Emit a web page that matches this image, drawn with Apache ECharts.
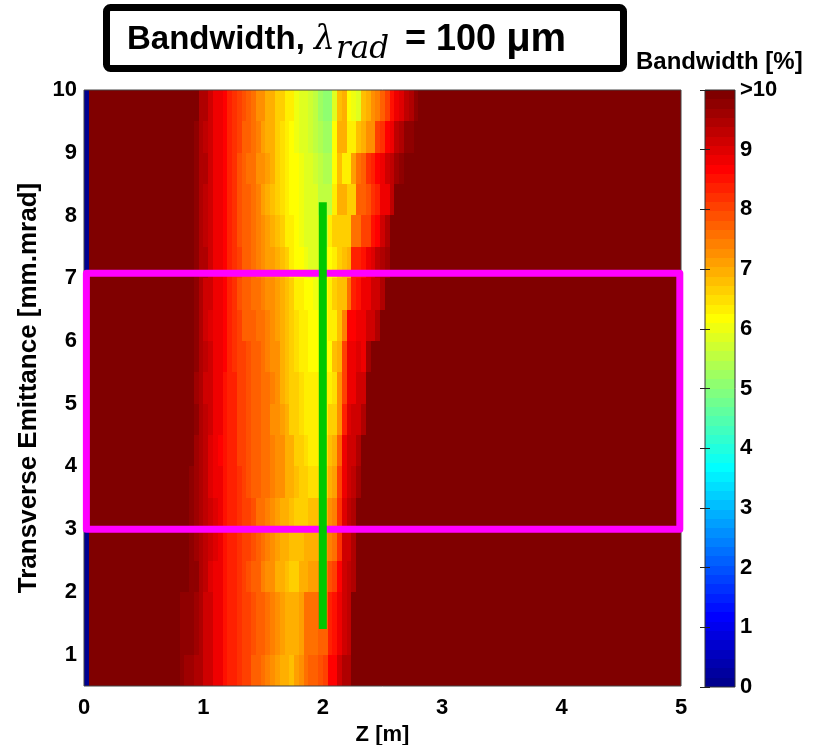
<!DOCTYPE html>
<html>
<head>
<meta charset="utf-8">
<script src="https://cdn.jsdelivr.net/npm/echarts@6/dist/echarts.min.js"></script>
<style>
  html, body { margin: 0; padding: 0; background: #fff; }
  #chart { width: 819px; height: 745px; }
</style>
</head>
<body>
<div id="chart"></div>
<script>
// Bandwidth map: Z position (m) vs transverse emittance (mm.mrad), colour = bandwidth (%)

// Z grid: 125 columns of 0.04 m from 0 to 5 m
const zStep = 0.04;
const zCount = 125;
// Emittance rows: lower edges of 0.5 mm.mrad rows, listed top to bottom
const rowHeight = 0.5;
const emittanceRows = [9.5, 9, 8.5, 8, 7.5, 7, 6.5, 6, 5.5, 5, 4.5, 4, 3.5, 3, 2.5, 2, 1.5, 1, 0.5];

// Bandwidth (%) in each row, starting at column bandStart (Z = 0.76 m);
// columns outside these lists are saturated (>10 %), first column (Z = 0) reads 0 %
const bandStart = 19;
const saturatedValue = 11;
const firstColumnValue = 0;
const bw_9_5 = [11,11,11,11,11, 9.5,9.4,9.2,8.9,8.8, 8.7,8.4,8.2,8.0,7.9, 7.7,7.5,7.3,7.2,7.0, 6.9,6.7,6.6,6.4,6.3, 6.0,5.9,5.8,5.7,5.6, 5.2,5.1,5.1,5.9,6.8, 7.0,6.1,6.0,5.9,6.8, 7.0,7.3,7.4,7.8,8.0, 8.5,8.9,9.0,9.3,9.4, 9.7];
const bw_9_0 = [11,11,11,11,9.7, 9.4,9.3,9.1,8.9,8.8, 8.6,8.3,8.2,8.0,7.8, 7.7,7.5,7.4,7.1,7.0, 6.9,6.7,6.5,6.3,6.2, 6.0,5.9,5.8,5.7,5.6, 5.4,5.3,5.3,6.1,6.9, 6.9,6.4,6.3,6.8,6.9, 7.2,7.3,8.0,8.2,8.6, 8.8,9.3,9.4,9.7,9.8];
const bw_8_5 = [11,11,11,11,9.8, 9.5,9.4,9.1,8.9,8.8, 8.6,8.3,8.2,7.9,7.8, 7.6,7.5,7.3,7.2,7.1, 6.9,6.7,6.5,6.4,6.2, 6.1,6.0,5.9,5.8,5.7, 5.5,5.4,5.4,6.1,6.8, 6.3,6.3,7.1,7.6,7.8, 8.2,8.3,8.7,8.8,9.2, 9.3,9.6,9.7];
const bw_8_0 = [11,11,11,11,9.7, 9.4,9.3,9.2,8.9,8.8, 8.6,8.3,8.2,7.9,7.8, 7.7,7.5,7.4,7.1,7.0, 6.8,6.7,6.5,6.3,6.2, 6.1,6.0,5.9,5.8,5.8, 5.6,5.5,5.6,6.4,6.9, 6.9,6.6,6.6,7.8,7.8, 7.9,8.2,8.3,8.8,8.8, 9.3];
const bw_7_5 = [11,11,11,11,9.7, 9.4,9.3,9.1,8.9,8.8, 8.6,8.3,8.2,7.9,7.8, 7.7,7.5,7.4,7.2,7.1, 6.9,6.8,6.6,6.4,6.3, 6.2,6.0,5.9,5.8,5.8, 5.8,5.7,6.3,6.6,6.6, 6.6,6.7,7.5,7.6,8.0, 8.1,8.5,8.6,9.1,9.4];
const bw_7_0 = [11,11,11,11,9.7, 9.5,9.4,9.2,8.9,8.8, 8.6,8.4,8.2,8.0,7.8, 7.7,7.5,7.4,7.2,7.1, 7.1,6.9,6.8,6.6,6.4, 6.2,6.1,6.0,5.9,5.9, 5.9,6.0,6.1,6.4,6.6, 6.8,7.0,8.3,8.4,8.5, 8.9,9.0,9.3,9.4,9.6];
const bw_6_5 = [11,11,11,11,9.7, 9.4,9.2,9.1,8.9,8.8, 8.6,8.3,8.2,7.9,7.8, 7.7,7.6,7.5,7.4,7.3, 7.2,7.1,6.9,6.8,6.6, 6.4,6.3,6.2,6.1,6.0, 6.0,6.1,6.3,6.6,6.8, 6.8,7.5,8.4,8.5,8.8, 8.8,9.1,9.2,9.5];
const bw_6_0 = [11,11,11,11,9.7, 9.4,9.2,9.0,8.9,8.8, 8.6,8.3,8.2,8.0,7.8, 7.8,7.7,7.6,7.5,7.4, 7.2,7.1,6.9,6.8,6.6, 6.5,6.4,6.3,6.2,6.1, 6.1,6.2,6.3,6.4,6.8, 7.4,8.7,8.7,8.8,8.9, 9.1,9.2,9.5];
const bw_5_5 = [11,11,11,11,9.7, 9.4,9.3,9.1,8.9,8.8, 8.6,8.3,8.2,8.1,8.0, 7.9,7.8,7.7,7.5,7.4, 7.3,7.2,7.0,6.8,6.6, 6.5,6.4,6.3,6.2,6.2, 6.2,6.2,6.1,6.8,6.9, 8.0,8.8,8.8,9.0,8.9, 9.6];
const bw_5_0 = [11,11,11,11,9.6, 9.4,9.2,9.1,8.9,8.8, 8.5,8.4,8.3,8.1,8.0, 7.9,7.8,7.7,7.6,7.5, 7.4,7.2,7.0,6.8,6.7, 6.6,6.5,6.4,6.3,6.3, 6.3,6.3,6.4,6.5,7.2, 8.0,8.8,8.9,9.1,9.1];
const bw_4_5 = [11,11,11,11,9.7, 9.4,9.3,9.1,8.9,8.8, 8.5,8.4,8.3,8.1,8.0, 7.9,7.8,7.7,7.6,7.5, 7.3,7.2,7.1,6.9,6.7, 6.6,6.5,6.4,6.3,6.3, 6.3,6.4,6.6,6.6,7.3, 8.4,9.0,9.1,9.2,9.5];
const bw_4_0 = [11,11,11,11,9.6, 9.4,9.3,9.0,8.8,8.7, 8.5,8.4,8.3,8.1,8.0, 7.9,7.8,7.7,7.6,7.5, 7.4,7.3,7.2,7.0,6.9, 6.7,6.6,6.5,6.4,6.4, 6.4,6.5,6.8,6.9,7.7, 8.8,9.2,9.2,9.4];
const bw_3_5 = [11,11,11,9.7,9.6, 9.4,9.3,9.0,8.9,8.8, 8.5,8.4,8.3,8.2,8.0, 7.9,7.8,7.7,7.6,7.5, 7.4,7.3,7.2,7.0,6.9, 6.8,6.7,6.6,6.5,6.5, 6.5,6.7,7.0,7.1,8.0, 8.8,9.2,9.3,9.6];
const bw_3_0 = [11,11,11,9.7,9.6, 9.4,9.3,9.1,9.0,8.8, 8.5,8.4,8.3,8.2,8.1, 8.0,7.9,7.6,7.5,7.4, 7.2,7.1,7.0,6.9,6.8, 6.6,6.6,6.7,6.8,6.8, 6.8,7.0,7.3,7.4,8.2, 9.0,9.3,9.4];
const bw_2_5 = [11,11,11,9.7,9.6, 9.4,9.3,9.1,9.0,8.8, 8.5,8.4,8.3,8.2,8.1, 8.0,7.9,7.8,7.5,7.4, 7.3,7.1,7.0,6.9,6.8, 6.8,6.8,6.9,6.9,6.9, 7.0,7.2,7.4,7.5,8.2, 9.1,9.2,9.4];
const bw_2_0 = [11,11,11,9.8,9.7, 9.4,9.3,9.0,8.9,8.8, 8.5,8.4,8.3,8.2,8.1, 7.9,7.8,7.7,7.4,7.3, 7.2,7.0,6.9,6.8,6.7, 6.7,7.0,7.0,7.1,7.1, 7.2,7.5,7.9,8.0,8.6, 9.2,9.3,9.5];
const bw_1_5 = [11,9.8,9.7,9.7,9.6, 9.5,9.2,9.1,8.9,8.8, 8.5,8.4,8.3,8.2,8.1, 8.0,7.9,7.8,7.7,7.5, 7.4,7.2,7.1,6.9,6.9, 7.0,7.1,7.5,7.6,7.6, 7.7,7.8,8.4,8.5,8.8, 9.2,9.3];
const bw_1_0 = [11,9.8,9.7,9.7,9.6, 9.5,9.2,9.1,8.9,8.8, 8.5,8.4,8.3,8.2,8.1, 8.0,7.9,7.8,7.7,7.5, 7.4,7.2,7.1,6.9,6.9, 7.0,7.1,7.5,7.6,7.6, 7.7,7.8,8.4,8.5,8.8, 9.2,9.3];
const bw_0_5 = [11,9.7,9.6,9.6,9.5, 9.5,9.2,9.1,8.9,8.8, 8.5,8.4,8.3,8.2,8.1, 8.0,7.8,7.7,7.6,7.4, 7.3,7.1,7.0,7.0,6.8, 7.1,7.2,7.6,7.7,7.8, 7.9,8.0,8.6,8.7,9.1, 9.4,9.4];
const bandwidthRows = [bw_9_5, bw_9_0, bw_8_5, bw_8_0, bw_7_5, bw_7_0, bw_6_5, bw_6_0, bw_5_5, bw_5_0,
                       bw_4_5, bw_4_0, bw_3_5, bw_3_0, bw_2_5, bw_2_0, bw_1_5, bw_1_0, bw_0_5];

// Tick labels
const zTicks = [0, 1, 2, 3, 4, 5];
const emittanceTicks = [1, 2, 3, 4, 5, 6, 7, 8, 9, 10];
const colorbarTicks = [0, 1, 2, 3, 4, 5, 6, 7, 8, 9, 10];
const colorbarTopLabel = '>10';

// Overlays: emittance window and working point at Z = 2 m
const windowZ = [0.02, 4.99];
const windowEmittance = [3, 7.08];
const markerZ = 2;
const markerEmittance = [1.41, 8.21];

// Colour scale: 0 – 10 %, 64 jet levels
const cMin = 0, cMax = 10, nLevels = 64;

function buildJet(m) {
  const n = Math.ceil(m / 4);
  const u = [];
  for (let i = 1; i <= n; i++) u.push(i / n);
  for (let i = 1; i < n; i++) u.push(1);
  for (let i = n; i >= 1; i--) u.push(i / n);
  const g0 = Math.ceil(n / 2) - (m % 4 === 1 ? 1 : 0);
  const rgb = [];
  for (let k = 0; k < m; k++) rgb.push([0, 0, 0]);
  for (let j = 0; j < u.length; j++) {
    const g = g0 + j + 1, r = g + n, b = g - n;
    if (g >= 1 && g <= m) rgb[g - 1][1] = u[j];
    if (r >= 1 && r <= m) rgb[r - 1][0] = u[j];
    if (b >= 1 && b <= m) rgb[b - 1][2] = u[j];
  }
  return rgb.map(c => 'rgb(' + c.map(v => Math.round(v * 255)).join(',') + ')');
}
const jet = buildJet(nLevels);
function colorOf(v) {
  let idx = Math.floor((v - cMin) / (cMax - cMin) * nLevels);
  if (idx < 0) idx = 0;
  if (idx > nLevels - 1) idx = nLevels - 1;
  return jet[idx];
}

// Cells: [z0, z1, e0, e1, bandwidth]
const cells = [];
emittanceRows.forEach((e0, r) => {
  const row = bandwidthRows[r];
  for (let c = 0; c < zCount; c++) {
    let v;
    if (c === 0) v = firstColumnValue;
    else if (c >= bandStart && c - bandStart < row.length) v = row[c - bandStart];
    else v = saturatedValue;
    cells.push([c * zStep, (c + 1) * zStep, e0, e0 + rowHeight, v]);
  }
});

// Colour bar bands
const barBands = [];
for (let i = 0; i < nLevels; i++) {
  barBands.push([i * (cMax - cMin) / nLevels, (i + 1) * (cMax - cMin) / nLevels, i]);
}

const FONT = 'Liberation Sans';
const labelStyle = { fontFamily: FONT, fontWeight: 'bold', fontSize: 22, color: '#000' };

// Pixel-snapped rectangle between two data corners
function snappedRect(p1, p2) {
  const x0 = Math.round(p1[0]), x1 = Math.round(p2[0]);
  const y0 = Math.round(p1[1]), y1 = Math.round(p2[1]);
  return { x: x0, y: y0, width: x1 - x0, height: y1 - y0 };
}

const chart = echarts.init(document.getElementById('chart'), null, { renderer: 'canvas' });

const option = {
  animation: false,
  backgroundColor: '#fff',
  grid: [
    { left: 84, top: 90, width: 597, height: 596, outerBoundsMode: 'none', containLabel: false,
      show: true, borderColor: '#444', borderWidth: 1, backgroundColor: 'transparent', z: 3 },
    { left: 705, top: 90, width: 30, height: 597, outerBoundsMode: 'none', containLabel: false,
      show: true, borderColor: '#333', borderWidth: 1, backgroundColor: 'transparent', z: 3 }
  ],
  xAxis: [
    {
      gridIndex: 0, type: 'value', min: 0, max: 5, interval: 1,
      name: 'Z [m]', nameLocation: 'middle', nameGap: 34,
      nameTextStyle: { fontFamily: FONT, fontWeight: 'bold', fontSize: 22, color: '#000' },
      axisLine: { show: false }, splitLine: { show: false },
      axisTick: { show: false },
      axisLabel: Object.assign({ margin: 11, customValues: zTicks }, labelStyle)
    },
    { gridIndex: 1, type: 'value', min: 0, max: 1, show: false }
  ],
  yAxis: [
    {
      gridIndex: 0, type: 'value', min: 0.5, max: 10,
      name: 'Transverse Emittance [mm.mrad]', nameLocation: 'middle', nameGap: 35, nameRotate: 90,
      nameTextStyle: { fontFamily: FONT, fontWeight: 'bold', fontSize: 26, color: '#000' },
      axisLine: { show: false }, splitLine: { show: false },
      axisTick: { show: false },
      axisLabel: Object.assign({ margin: 7, customValues: emittanceTicks }, labelStyle)
    },
    {
      gridIndex: 1, type: 'value', min: cMin, max: cMax, position: 'right', z: 6,
      axisLine: { show: false }, splitLine: { show: false },
      axisTick: { show: true, inside: true, length: 5, lineStyle: { color: '#222', width: 1 }, customValues: colorbarTicks },
      axisLabel: Object.assign({
        margin: 5, customValues: colorbarTicks,
        formatter: v => (v === cMax ? colorbarTopLabel : String(v))
      }, labelStyle)
    },
    {
      gridIndex: 1, type: 'value', min: cMin, max: cMax, position: 'left', z: 6,
      axisLine: { show: false }, splitLine: { show: false },
      axisTick: { show: true, inside: true, length: 5, lineStyle: { color: '#222', width: 1 }, customValues: colorbarTicks },
      axisLabel: { show: false }
    }
  ],
  series: [
    {
      type: 'custom', xAxisIndex: 0, yAxisIndex: 0, clip: true, z: 1,
      data: cells,
      renderItem: function (params, api) {
        const p1 = api.coord([api.value(0), api.value(3)]);
        const p2 = api.coord([api.value(1), api.value(2)]);
        return {
          type: 'rect',
          shape: snappedRect(p1, p2),
          style: { fill: colorOf(api.value(4)), stroke: null }
        };
      }
    },
    {
      type: 'custom', xAxisIndex: 1, yAxisIndex: 1, clip: true, z: 1,
      data: barBands,
      renderItem: function (params, api) {
        const p1 = api.coord([0, api.value(1)]);
        const p2 = api.coord([1, api.value(0)]);
        return {
          type: 'rect',
          shape: snappedRect(p1, p2),
          style: { fill: jet[api.value(2)], stroke: null }
        };
      }
    },
    {
      type: 'line', xAxisIndex: 0, yAxisIndex: 0, clip: false, z: 5,
      symbol: 'none', silent: true,
      data: [[windowZ[0], windowEmittance[0]], [windowZ[1], windowEmittance[0]],
             [windowZ[1], windowEmittance[1]], [windowZ[0], windowEmittance[1]],
             [windowZ[0], windowEmittance[0]]],
      lineStyle: { color: '#ff00ff', width: 7, join: 'round', cap: 'round' }
    },
    {
      type: 'line', xAxisIndex: 0, yAxisIndex: 0, clip: false, z: 6,
      symbol: 'none', silent: true,
      data: [[markerZ, markerEmittance[0]], [markerZ, markerEmittance[1]]],
      lineStyle: { color: '#00c800', width: 8, cap: 'butt' }
    }
  ],
  graphic: [
    {
      type: 'rect', z: 10,
      shape: { x: 106.5, y: 7.5, width: 517, height: 61, r: 4 },
      style: { fill: '#fff', stroke: '#000', lineWidth: 7 }
    },
    {
      type: 'text', z: 11, x: 127, y: 40,
      style: {
        text: '{b|Bandwidth, }{l|λ}{s|rad}{c| = 100 }{u|μm}',
        verticalAlign: 'middle',
        rich: {
          b: { fontFamily: FONT, fontWeight: 'bold', fontSize: 33, fill: '#000' },
          l: { fontFamily: 'DejaVu Serif', fontStyle: 'italic', fontSize: 33, fill: '#000' },
          s: { fontFamily: 'DejaVu Serif', fontStyle: 'italic', fontSize: 31, fill: '#000', padding: [20, 6, 0, 1] },
          c: { fontFamily: FONT, fontWeight: 'bold', fontSize: 36, fill: '#000' },
          u: { fontFamily: FONT, fontWeight: 'bold', fontSize: 40, fill: '#000' }
        }
      }
    },
    {
      type: 'text', z: 11, x: 636, y: 62,
      style: {
        text: 'Bandwidth [%]', verticalAlign: 'middle',
        fontFamily: FONT, fontWeight: 'bold', fontSize: 24, fill: '#000'
      }
    }
  ]
};

chart.setOption(option);
</script>
</body>
</html>
